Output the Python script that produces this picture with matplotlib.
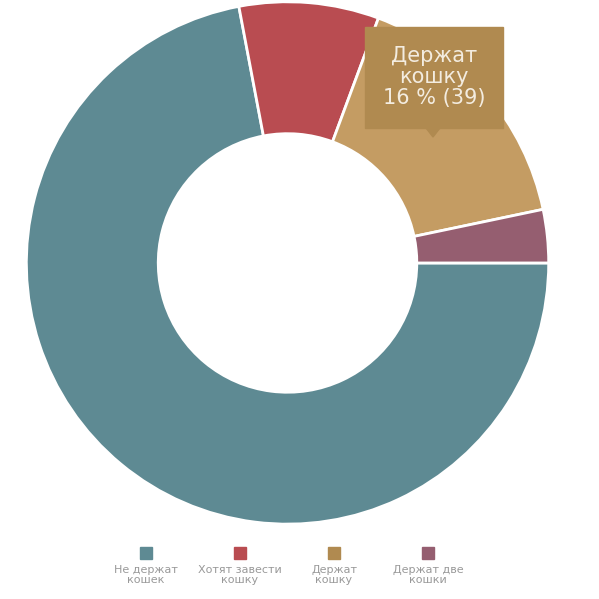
import matplotlib
matplotlib.use("Agg")
import matplotlib.pyplot as plt
from matplotlib.patches import Polygon

labels = ["Не держат\nкошек", "Хотят завести\nкошку", "Держат\nкошку", "Держат две\nкошки"]
counts = [175, 21, 39, 8]
colors = ["#5e8a93", "#b94c51", "#c49c63", "#955e70"]
legend_colors = ["#5e8a93", "#b94c51", "#b08a50", "#955e70"]

fig = plt.figure(figsize=(5.99, 5.99), dpi=100)
ax = fig.add_axes([0.044, 0.125, 0.872, 0.872])
wedges, _ = ax.pie(counts, colors=colors, startangle=0, counterclock=False,
                   radius=1.0, wedgeprops=dict(width=0.505, edgecolor="white", linewidth=2))
ax.set_aspect("equal")
ax.set_xlim(-1, 1)
ax.set_ylim(-1, 1)

# tooltip for "Держат кошку"
total = sum(counts)
pct = round(counts[2] / total * 100)
fig.patches.append(plt.Rectangle((365 / 599, 1 - 128 / 599), 138 / 599, 101 / 599,
                                 transform=fig.transFigure, color="#b08a50", zorder=5))
fig.patches.append(Polygon([(426 / 599, 1 - 128 / 599), (440 / 599, 1 - 128 / 599),
                            (433 / 599, 1 - 137 / 599)], closed=True,
                           transform=fig.transFigure, color="#b08a50", zorder=5))
fig.text(434 / 599, 1 - 77 / 599, "Держат\nкошку\n%d %% (%d)" % (pct, counts[2]),
         ha="center", va="center", color="#f3ece0", fontsize=15, linespacing=1.05, zorder=6)

# legend
xs = [146, 240, 334, 428]
for x, lab, c in zip(xs, labels, legend_colors):
    fig.patches.append(plt.Rectangle(((x - 6) / 599, 1 - 559 / 599), 12 / 599, 12 / 599,
                                     transform=fig.transFigure, color=c))
    fig.text(x / 599, 1 - 565 / 599, lab, ha="center", va="top", color="#999999",
             fontsize=8, linespacing=1.0)

fig.savefig("out.png", dpi=100, facecolor="white")
